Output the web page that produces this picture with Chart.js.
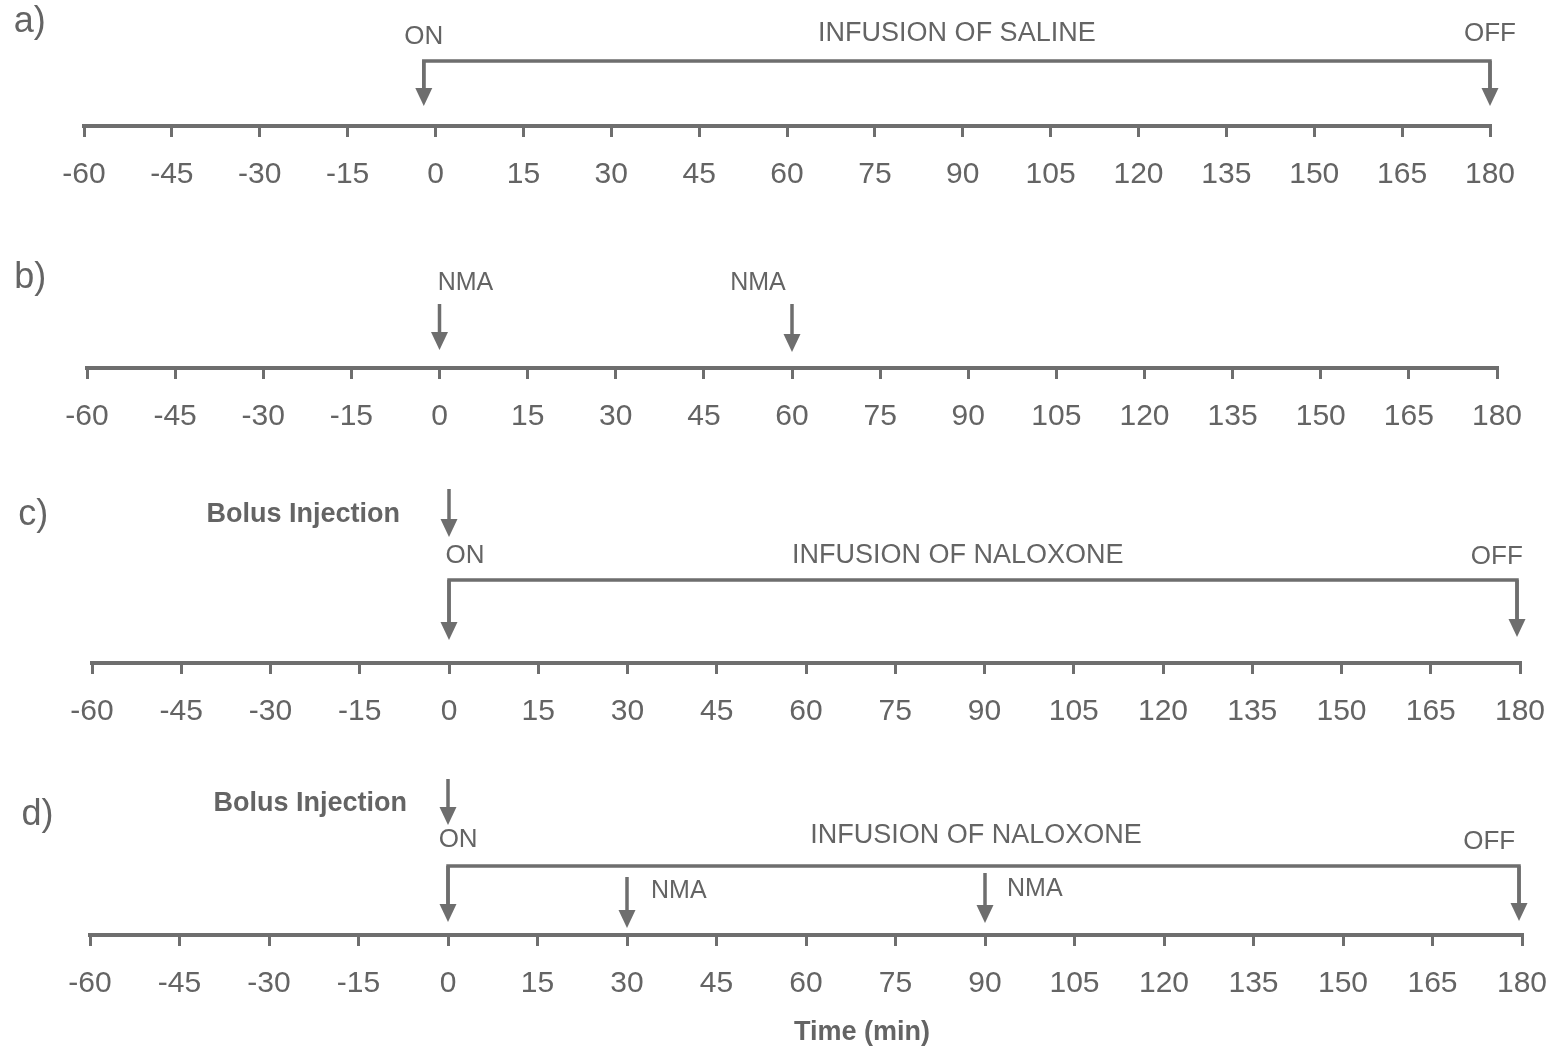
<!DOCTYPE html>
<html lang="en">
<head>
  <meta charset="UTF-8" />
  <title>Experimental protocol timelines</title>
  <script src="https://cdn.jsdelivr.net/npm/chart.js"></script>
  <style>
    body {
      margin: 0; background: #fff;
      width: 1558px; height: 1050px;
      position: relative; overflow: hidden;
      font-family: 'Liberation Sans', Arial, sans-serif;
    }
    canvas { position: absolute; left: 0; }
  </style>
</head>
<body>
  <canvas id="panel0"></canvas>
  <canvas id="panel1"></canvas>
  <canvas id="panel2"></canvas>
  <canvas id="panel3"></canvas>

  <script>
    // ---- data (minutes) ----
    const timeTicks = [-60, -45, -30, -15, 0, 15, 30, 45, 60, 75, 90, 105, 120, 135, 150, 165, 180];
    const panelNames = ['a)', 'b)', 'c)', 'd)'];
    const infusionNames = ['INFUSION OF SALINE', '', 'INFUSION OF NALOXONE', 'INFUSION OF NALOXONE'];
    const infusionOn = [-2, null, 0, 0];
    const infusionOff = [180, null, 179.5, 179.5];
    const bolusTimes = [null, null, 0, 0];
    const nmaTimes = [[], [0, 60], [], [30, 90]];
    const axisTitles = ['', '', '', 'Time (min)'];

    const LINE = '#6e6e6e';
    const TEXT = '#646464';
    const FONT = "'Liberation Sans', Arial, sans-serif";

    // ---- layout: pixel placement of each panel, heights in px above the axis ----
    const panelLayout = [
      { axisY: 126, x0: 84, x1: 1490, areaH: 126, below: 90,
        name: { x: -72, y: 104 },
        bracketY: 65, onTip: 20, offTip: 20,
        onText: { x: -2, y: 89 }, infText: { x: 89, y: 92 }, offText: { x: 180, y: 92 } },
      { axisY: 368, x0: 87, x1: 1497, areaH: 110, below: 90,
        name: { x: -72.4, y: 90 },
        nma: [ { top: 64, tip: 18, tx: 26, ty: 85, align: 'center' },
               { top: 64, tip: 16, tx: -34, ty: 85, align: 'center' } ] },
      { axisY: 663, x0: 92, x1: 1520, areaH: 185, below: 90,
        name: { x: -72.4, y: 148 },
        bolus: { top: 174, tip: 126, tx: -24.5, ty: 148 },
        bracketY: 83, onTip: 23, offTip: 26,
        onText: { x: 2.7, y: 107 }, infText: { x: 85.5, y: 107 }, offText: { x: 176.1, y: 106 } },
      { axisY: 935, x0: 90, x1: 1522, areaH: 165, below: 115,
        name: { x: -71.5, y: 120 },
        bolus: { top: 156, tip: 110, tx: -23.1, ty: 131 },
        bracketY: 69, onTip: 13, offTip: 14,
        onText: { x: 1.7, y: 95 }, infText: { x: 88.5, y: 99 }, offText: { x: 174.5, y: 93 },
        nma: [ { top: 58, tip: 7, tx: 24, ty: 44, align: 'left' },
               { top: 62, tip: 12, tx: 22, ty: 46, align: 'left' } ],
        title: { x: 69.4, y: -98 } }
    ];

    function drawArrow(ctx, xp, yTop, yTip) {
      const head = 18, half = 8.5;
      ctx.beginPath();
      ctx.moveTo(xp, yTop);
      ctx.lineTo(xp, yTip - head + 2);
      ctx.stroke();
      ctx.beginPath();
      ctx.moveTo(xp - half, yTip - head);
      ctx.lineTo(xp + half, yTip - head);
      ctx.lineTo(xp, yTip);
      ctx.closePath();
      ctx.fill();
    }

    function text(ctx, str, x, y, size, weight, align) {
      ctx.font = (weight || 'normal') + ' ' + size + 'px ' + FONT;
      ctx.textAlign = align || 'center';
      ctx.textBaseline = 'middle';
      ctx.fillText(str, x, y);
    }

    const timelinePlugin = {
      id: 'timeline',
      afterDraw(chart) {
        const i = chart.options.plugins.timeline.index;
        const L = panelLayout[i];
        const ctx = chart.ctx;
        const px = v => chart.scales.x.getPixelForValue(v);
        const py = v => chart.scales.y.getPixelForValue(v);
        ctx.save();
        ctx.strokeStyle = LINE;
        ctx.fillStyle = LINE;
        ctx.lineWidth = 3.5;

        // infusion bracket with ON / OFF arrows
        if (infusionOn[i] !== null) {
          const xa = px(infusionOn[i]), xb = px(infusionOff[i]), yb = py(L.bracketY);
          ctx.beginPath();
          ctx.moveTo(xa, py(L.onTip) - 15);
          ctx.lineTo(xa, yb);
          ctx.lineTo(xb, yb);
          ctx.lineTo(xb, py(L.offTip) - 15);
          ctx.stroke();
          drawArrow(ctx, xa, yb, py(L.onTip));
          drawArrow(ctx, xb, yb, py(L.offTip));
        }
        // bolus injection
        if (bolusTimes[i] !== null) {
          drawArrow(ctx, px(bolusTimes[i]), py(L.bolus.top), py(L.bolus.tip));
        }
        // NMA doses
        nmaTimes[i].forEach((t, k) => {
          const n = L.nma[k];
          drawArrow(ctx, px(t), py(n.top), py(n.tip));
        });

        // texts
        ctx.fillStyle = TEXT;
        text(ctx, panelNames[i], px(L.name.x), py(L.name.y), 36, 'normal', 'left');
        if (infusionOn[i] !== null) {
          text(ctx, 'ON', px(L.onText.x), py(L.onText.y), 26);
          text(ctx, infusionNames[i], px(L.infText.x), py(L.infText.y), 27);
          text(ctx, 'OFF', px(L.offText.x), py(L.offText.y), 26);
        }
        if (bolusTimes[i] !== null) {
          text(ctx, 'Bolus Injection', px(L.bolus.tx), py(L.bolus.ty), 27, 'bold');
        }
        nmaTimes[i].forEach((t, k) => {
          const n = L.nma[k];
          text(ctx, 'NMA', px(t) + n.tx, py(n.ty), 25, 'normal', n.align);
        });
        if (axisTitles[i]) {
          text(ctx, axisTitles[i], px(L.title.x), py(L.title.y), 27, 'bold');
        }
        ctx.restore();
      }
    };

    panelLayout.forEach((L, i) => {
      const canvas = document.getElementById('panel' + i);
      canvas.width = 1558;
      canvas.height = L.areaH + L.below;
      canvas.style.top = (L.axisY - L.areaH) + 'px';

      new Chart(canvas.getContext('2d'), {
        type: 'scatter',
        data: { datasets: [{ data: [] }] },
        options: {
          responsive: false,
          animation: false,
          layout: { padding: { left: L.x0, right: 1558 - L.x1, top: 0, bottom: 0 } },
          plugins: {
            legend: { display: false },
            tooltip: { enabled: false },
            timeline: { index: i }
          },
          scales: {
            x: {
              type: 'linear', min: -60, max: 180,
              afterBuildTicks: s => { s.ticks = timeTicks.map(v => ({ value: v })); },
              afterFit: s => { s.height = L.below; s.paddingLeft = 0; s.paddingRight = 0; },
              border: { display: true, color: LINE, width: 4 },
              grid: { drawOnChartArea: false, drawTicks: true, tickLength: 11, lineWidth: 3, color: LINE },
              ticks: { color: TEXT, font: { family: FONT, size: 30 }, padding: 20, maxRotation: 0, autoSkip: false }
            },
            y: { display: false, min: 0, max: L.areaH }
          }
        },
        plugins: [timelinePlugin]
      });
    });
  </script>
</body>
</html>
